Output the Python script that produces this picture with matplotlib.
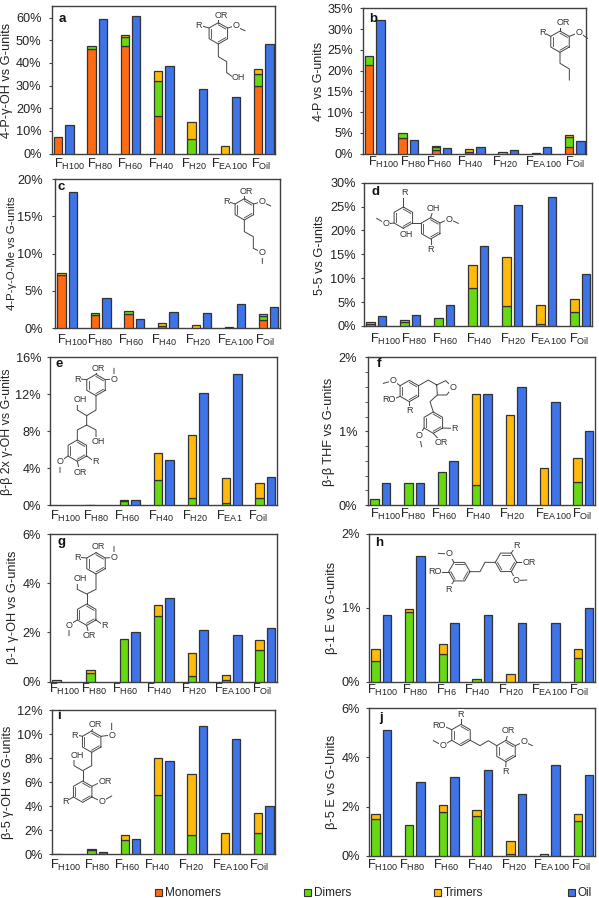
import numpy as np
import matplotlib
matplotlib.use("Agg")
import matplotlib.pyplot as plt
from matplotlib.patches import Rectangle
from matplotlib.transforms import ScaledTranslation

plt.rcParams['font.family'] = ['Liberation Sans', 'DejaVu Sans']
plt.rcParams['mathtext.fontset'] = 'custom'
plt.rcParams['mathtext.rm'] = 'Liberation Sans'
plt.rcParams['mathtext.default'] = 'rm'

W, H = 599, 898
series_names = ['Monomers', 'Dimers', 'Trimers', 'Oil']
colors = ['#FF6A13', '#66D911', '#FFBB0A', '#3F73E8']
EDGE = '#333333'

std_labels = ['H100', 'H80', 'H60', 'H40', 'H20', 'EA100', 'Oil']
e_labels = ['H100', 'H80', 'H60', 'H40', 'H20', 'EA1', 'Oil']
h_labels = ['H100', 'H80', 'H6', 'H40', 'H20', 'EA100', 'Oil']

a_mono = [7.2, 46.3, 47.5, 16.4, 0, 0, 29.6]
a_dim = [0, 1.3, 4.1, 15.6, 6.3, 0, 5.5]
a_tri = [0, 0, 0.6, 4.3, 7.5, 3.5, 2.1]
a_oil = [12.4, 59.4, 60.6, 38.7, 28.4, 24.9, 48.5]

b_mono = [21.3, 3.7, 0.9, 0.3, 0, 0, 1.5]
b_dim = [2.1, 1.3, 0.8, 0.2, 0, 0, 2.4]
b_tri = [0, 0, 0.15, 0.7, 0.5, 0.1, 0.7]
b_oil = [32.2, 3.2, 1.4, 1.7, 1.0, 1.6, 3.0]

c_mono = [7.2, 1.75, 1.85, 0.3, 0, 0, 1.1]
c_dim = [0, 0.25, 0.45, 0, 0, 0, 0.6]
c_tri = [0.2, 0, 0, 0.45, 0.5, 0.15, 0.2]
c_oil = [18.3, 4.0, 1.3, 2.2, 2.0, 3.3, 2.9]

d_mono = [0, 0, 0, 0, 0, 0, 0]
d_dim = [0.4, 0.9, 1.7, 8.0, 4.2, 0.4, 3.0]
d_tri = [0.5, 0.3, 0, 4.7, 10.2, 4.1, 2.7]
d_oil = [2.0, 2.3, 4.5, 16.8, 25.3, 27.0, 10.9]

e_mono = [0, 0, 0, 0, 0, 0, 0]
e_dim = [0, 0, 0.45, 2.75, 0.8, 0.3, 0.75]
e_tri = [0, 0.08, 0.1, 2.95, 6.85, 2.7, 1.65]
e_oil = [0, 0, 0.6, 4.9, 12.1, 14.2, 3.1]

f_mono = [0, 0, 0, 0, 0, 0, 0]
f_dim = [0.08, 0.3, 0.45, 0.27, 0, 0, 0.32]
f_tri = [0, 0, 0, 1.24, 1.22, 0.51, 0.32]
f_oil = [0.3, 0.3, 0.6, 1.5, 1.6, 1.4, 1.0]

g_mono = [0, 0, 0, 0, 0, 0, 0]
g_dim = [0, 0.35, 1.75, 2.67, 0.22, 0.05, 1.3]
g_tri = [0.05, 0.13, 0, 0.43, 0.93, 0.22, 0.4]
g_oil = [0, 0, 2.0, 3.4, 2.1, 1.9, 2.2]

h_mono = [0, 0, 0, 0, 0, 0, 0]
h_dim = [0.28, 0.94, 0.37, 0.03, 0, 0, 0.32]
h_tri = [0.16, 0.05, 0.14, 0, 0.11, 0, 0.12]
h_oil = [0.9, 1.7, 0.8, 0.9, 0.8, 0.8, 1.0]

i_mono = [0, 0, 0, 0, 0, 0, 0]
i_dim = [0, 0.4, 1.2, 4.95, 1.6, 0, 1.75]
i_tri = [0.04, 0.05, 0.4, 3.05, 5.1, 1.8, 1.7]
i_oil = [0, 0.17, 1.3, 7.8, 10.7, 9.6, 4.0]

j_mono = [0, 0, 0, 0, 0, 0, 0]
j_dim = [1.5, 1.23, 1.78, 1.63, 0.07, 0, 1.4]
j_tri = [0.18, 0, 0.27, 0.21, 0.53, 0.07, 0.28]
j_oil = [5.1, 3.0, 3.2, 3.5, 2.5, 3.7, 3.3]

# layout per panel: letter, data, y label, labels, box(l,r,t,b) px, ymax, yticks, ylabel px, letter px,
# horizontal shift of x labels px, vertical gap of x labels px, gap of y labels px, y label font size
panels = [
 ('a', (a_mono, a_dim, a_tri, a_oil), '4-P-γ-OH vs G-units', std_labels, (52, 275, 5.5, 153.5), 65.3, [0,10,20,30,40,50,60], (7, 80), (62, 19), [6,3,0,-3,-3,-1,-2], 9.5, 10.5, 9.2),
 ('b', (b_mono, b_dim, b_tri, b_oil), '4-P vs G-units', std_labels, (363, 586, 8.3, 153.7), 35, [0,5,10,15,20,25,30,35], (319, 81), (373, 19), [8.5,4.7,-2,-4.5,-3.5,1.5,1], 8, 10, 9.0),
 ('c', (c_mono, c_dim, c_tri, c_oil), '4-P-γ-O-Me vs G-units', std_labels, (55, 280, 179, 328.3), 20, [0,5,10,15,20], (12, 253), (61, 187), [6,-1,-3.5,-4,-3.5,0.5,-3], 11, 12, 8.2),
 ('d', (d_mono, d_dim, d_tri, d_oil), '5-5 vs G-units', std_labels, (364, 592, 182.7, 326), 30, [0,5,10,15,20,25,30], (320, 255), (376, 192), [9,3.5,0.5,0.5,0.5,2,-1.5], 12, 8, 9.2),
 ('e', (e_mono, e_dim, e_tri, e_oil), 'β-β 2x γ-OH vs G-units', e_labels, (50, 277, 357.3, 505.3), 16, [0,4,8,12,16], (7, 432), (59, 364), [3,0,-3,-3,-3,-2,-7.5], 10, 9, 8.9),
 ('f', (f_mono, f_dim, f_tri, f_oil), 'β-β THF vs G-units', std_labels, (368, 595, 357.3, 505.3), 2, [0,1,2], (329, 432), (379, 364), [5,-1,-4,-4,-4,4,-1], 8, 11, 9.2),
 ('g', (g_mono, g_dim, g_tri, g_oil), 'β-1 γ-OH vs G-units', std_labels, (50, 277, 534, 681.7), 6, [0,2,4,6], (13, 607), (62, 542), [2,-2,-5,-5,-4,1,-3], 6.5, 9, 9.2),
 ('h', (h_mono, h_dim, h_tri, h_oil), 'β-1 E vs G-units', h_labels, (369, 595, 534, 681.7), 2, [0,1,2], (332, 608), (379, 543), [1,0,-2.5,-5,-4.5,0,-4], 8, 9, 9.2),
 ('i', (i_mono, i_dim, i_tri, i_oil), 'β-5 γ-OH vs G-units', std_labels, (52, 275, 710.3, 854.3), 12, [0,2,4,6,8,10,12], (8, 782), (59, 716), [2,0,-3,-6.5,-6,0,-4], 10, 9, 9.2),
 ('j', (j_mono, j_dim, j_tri, j_oil), 'β-5 E vs G-Units', std_labels, (369, 595, 708.3, 855.7), 6, [0,2,4,6], (332, 782), (381, 718), [1,-2.4,-2.6,-2,-1.6,2,-2], 9, 9, 9.2),
]

fig = plt.figure(figsize=(W/100, H/100), dpi=100)
TXT = '#222222'
for letter, data, ylab, labs, (l, r, t, b), ymax, yt, ylpos, letpos, shifts, xgap, ygap, ylfs in panels:
    ax = fig.add_axes([l/W, 1-b/H, (r-l)/W, (b-t)/H])
    x = np.arange(7)
    bottom = np.zeros(7)
    for k in range(3):
        v = np.array(data[k], float)
        m = v > 0
        ax.bar(x[m]-0.17, v[m], 0.25, bottom=bottom[m], color=colors[k], edgecolor=EDGE, linewidth=0.9, zorder=3)
        bottom += v
    oil = np.array(data[3], float)
    m = oil > 0
    ax.bar(x[m]+0.17, oil[m], 0.25, color=colors[3], edgecolor=EDGE, linewidth=0.9, zorder=3)
    ax.set_xlim(-0.36, 6.34)
    ax.set_ylim(0, ymax)
    ax.set_yticks(yt)
    ax.set_yticklabels([f'{v}%' for v in yt], fontsize=9.2, color=TXT)
    if letter == 'f':
        ax.set_yticks(np.arange(0, 2.01, 0.2), minor=True)
        ax.tick_params(axis='y', which='minor', length=2, width=0.7, color='#555555')
    ax.tick_params(axis='y', length=2.5, width=0.8, color='#444444', pad=(ygap-3.5)*0.72)
    ax.set_xticks(x)
    ax.set_xticklabels([f'F$_{{{s}}}$' for s in labs], fontsize=9.3, color=TXT)
    ax.tick_params(axis='x', length=0, pad=0)
    for lb, dx in zip(ax.get_xticklabels(), shifts):
        lb.set_transform(lb.get_transform() + ScaledTranslation(dx/100, -(xgap-6.5)/100, fig.dpi_scale_trans))
    for s in ax.spines.values():
        s.set_color('#404040')
        s.set_linewidth(1.0)
    fig.text(ylpos[0]/W, 1-ylpos[1]/H, ylab, rotation=90, ha='center', va='center', fontsize=ylfs, color=TXT)
    fig.text(letpos[0]/W, 1-letpos[1]/H, letter, ha='center', va='center', fontsize=9.5, fontweight='bold', color='#111111')

# overlay in pixel coordinates: chemical structures and legend
ov = fig.add_axes([0, 0, 1, 1], zorder=10)
ov.set_xlim(0, W); ov.set_ylim(H, 0); ov.axis('off'); ov.patch.set_alpha(0)
MC = '#444444'

def ring(ox, oy, cx, cy, rad=32, flat=False):
    start = 0 if flat else 30
    ang = np.radians(start + 60*np.arange(7))
    px = (cx + rad*np.cos(ang))/3 + ox
    py = (cy + rad*np.sin(ang))/3 + oy
    ov.plot(px, py, color=MC, lw=0.7, solid_joinstyle='round')
    for i in (0, 2, 4):
        a, c = i, i+1
        fx = (cx + 0.8*rad*np.cos(ang[[a, c]]))/3 + ox
        fy = (cy + 0.8*rad*np.sin(ang[[a, c]]))/3 + oy
        ov.plot(fx, fy, color=MC, lw=0.6)

def chain(ox, oy, pts):
    p = np.array(pts, float)
    ov.plot(p[:, 0]/3+ox, p[:, 1]/3+oy, color=MC, lw=0.7)

def lab(ox, oy, x, y, s):
    ov.text(x/3+ox, y/3+oy, s, fontsize=6.5, color='#333333', ha='center', va='center',
            bbox=dict(facecolor='white', edgecolor='none', pad=0.3))

# a
ring(0, 0, 655, 100)
chain(0, 0, [(655,68),(655,55)]); chain(0, 0, [(627,84),(607,78)]); chain(0, 0, [(683,84),(703,78),(735,92)])
chain(0, 0, [(655,132),(655,170),(680,185),(680,218),(700,232)])
lab(0,0,663,45,'OR'); lab(0,0,597,76,'R'); lab(0,0,708,76,'O'); lab(0,0,716,232,'OH')
# b
ring(300, 0, 780, 125)
chain(300,0,[(780,93),(780,80)]); chain(300,0,[(752,109),(735,100)]); chain(300,0,[(808,109),(838,97),(862,115)])
chain(300,0,[(780,157),(780,190),(808,207),(808,240)])
lab(300,0,790,68,'OR'); lab(300,0,727,98,'R'); lab(300,0,838,98,'O')
# c
ring(0, 170, 733, 118)
chain(0,170,[(733,86),(733,75)]); chain(0,170,[(705,102),(688,96)]); chain(0,170,[(761,102),(785,95),(812,108)])
chain(0,170,[(733,150),(733,185),(760,200),(760,235),(787,248),(787,280)])
lab(0,170,740,63,'OR'); lab(0,170,678,95,'R'); lab(0,170,785,95,'O'); lab(0,170,787,248,'O')
# d
ring(300, 170, 310, 143); ring(300, 170, 392, 175)
chain(300,170,[(310,111),(310,80)]); chain(300,170,[(338,159),(364,159)]); chain(300,170,[(310,175),(318,190)])
chain(300,170,[(282,159),(258,162),(230,145)]); chain(300,170,[(392,143),(400,118)])
chain(300,170,[(420,159),(447,147),(475,160)]); chain(300,170,[(392,207),(392,232)])
lab(300,170,312,68,'R'); lab(300,170,320,193,'OH'); lab(300,170,258,162,'O')
lab(300,170,400,115,'OH'); lab(300,170,447,147,'O'); lab(300,170,392,240,'R')
# e
ring(0, 350, 288, 105); ring(0, 350, 232, 302)
chain(0,350,[(288,73),(295,62)]); chain(0,350,[(260,89),(240,87)]); chain(0,350,[(316,89),(342,87),(342,55)])
chain(0,350,[(288,137),(288,180),(260,197),(232,180),(232,158)]); chain(0,350,[(260,197),(260,225),(232,240),(232,270)])
chain(0,350,[(260,225),(288,240),(288,265)]); chain(0,350,[(260,318),(280,332)]); chain(0,350,[(232,334),(238,360)])
chain(0,350,[(204,318),(180,335),(180,367)])
lab(0,350,295,55,'OR'); lab(0,350,232,87,'R'); lab(0,350,342,87,'O'); lab(0,350,240,150,'OH')
lab(0,350,295,275,'OH'); lab(0,350,287,335,'R'); lab(0,350,240,367,'OR'); lab(0,350,180,335,'O')
# f
ring(300, 350, 328, 123); ring(300, 350, 400, 218)
chain(300,350,[(356,107),(385,90),(410,105),(437,92),(458,112),(440,135),(412,135),(410,105)])
chain(300,350,[(412,135),(390,155),(400,186)]); chain(300,350,[(300,107),(280,92),(250,100)]); chain(300,350,[(300,139),(280,148)])
chain(300,350,[(328,155),(328,175)]); chain(300,350,[(428,234),(455,235)]); chain(300,350,[(400,250),(418,270)])
chain(300,350,[(372,234),(358,258),(365,290)])
lab(300,350,280,92,'O'); lab(300,350,268,150,'RO'); lab(300,350,328,182,'R'); lab(300,350,463,235,'R')
lab(300,350,425,278,'OR'); lab(300,350,358,258,'O'); lab(300,350,458,112,'O')
# g
ring(0, 530, 288, 100); ring(0, 530, 260, 254)
chain(0,530,[(288,68),(295,58)]); chain(0,530,[(260,84),(240,82)]); chain(0,530,[(316,84),(342,82),(342,50)])
chain(0,530,[(288,132),(288,178),(260,192),(232,178),(232,155)]); chain(0,530,[(260,192),(260,222)])
chain(0,530,[(232,270),(207,285),(207,317)]); chain(0,530,[(260,286),(266,310)]); chain(0,530,[(288,270),(305,282)])
lab(0,530,295,50,'OR'); lab(0,530,232,82,'R'); lab(0,530,342,82,'O'); lab(0,530,240,146,'OH')
lab(0,530,207,285,'O'); lab(0,530,268,317,'OR'); lab(0,530,313,287,'R')
# h
ring(300, 530, 478, 125, flat=True); ring(300, 530, 618, 97, flat=True)
chain(300,530,[(510,125),(540,125),(555,97),(586,97)]); chain(300,530,[(462,97),(447,72),(415,70)])
chain(300,530,[(446,125),(425,125)]); chain(300,530,[(462,153),(448,172)])
chain(300,530,[(634,69),(645,52)]); chain(300,530,[(650,97),(672,97)]); chain(300,530,[(634,125),(648,152),(680,150)])
lab(300,530,447,72,'O'); lab(300,530,405,125,'RO'); lab(300,530,445,178,'R'); lab(300,530,648,45,'R')
lab(300,530,688,97,'OR'); lab(300,530,648,152,'O')
# i
ring(0, 705, 275, 110); ring(0, 705, 248, 260)
chain(0,705,[(275,78),(282,65)]); chain(0,705,[(247,94),(232,90)]); chain(0,705,[(303,94),(335,90),(335,55)])
chain(0,705,[(275,142),(275,182),(248,197),(222,182),(222,160)]); chain(0,705,[(248,197),(248,228)])
chain(0,705,[(276,244),(300,232)]); chain(0,705,[(276,276),(305,290),(335,273)]); chain(0,705,[(220,276),(205,285)])
lab(0,705,285,58,'OR'); lab(0,705,225,90,'R'); lab(0,705,335,90,'O'); lab(0,705,233,150,'OH')
lab(0,705,315,230,'OR'); lab(0,705,305,290,'O'); lab(0,705,197,290,'R')
# j
ring(300, 705, 483, 90); ring(300, 705, 618, 138)
chain(300,705,[(483,58),(483,38)]); chain(300,705,[(455,74),(435,65)]); chain(300,705,[(455,106),(428,122),(400,107)])
chain(300,705,[(511,106),(540,122),(565,107),(590,122)]); chain(300,705,[(618,106),(624,85)])
chain(300,705,[(646,122),(672,110),(697,122)]); chain(300,705,[(618,170),(617,192)])
lab(300,705,482,28,'R'); lab(300,705,418,62,'RO'); lab(300,705,428,122,'O'); lab(300,705,625,77,'OR')
lab(300,705,672,110,'O'); lab(300,705,617,200,'R')

# legend
leg_x = [155, 304, 434, 568]
for name, c, lx in zip(series_names, colors, leg_x):
    ov.add_patch(Rectangle((lx, 889), 7, 7, facecolor=c, edgecolor=EDGE, linewidth=0.8))
    ov.text(lx+10, 892.5, name, fontsize=8.5, color=TXT, ha='left', va='center')

fig.savefig('out.png', dpi=100)
